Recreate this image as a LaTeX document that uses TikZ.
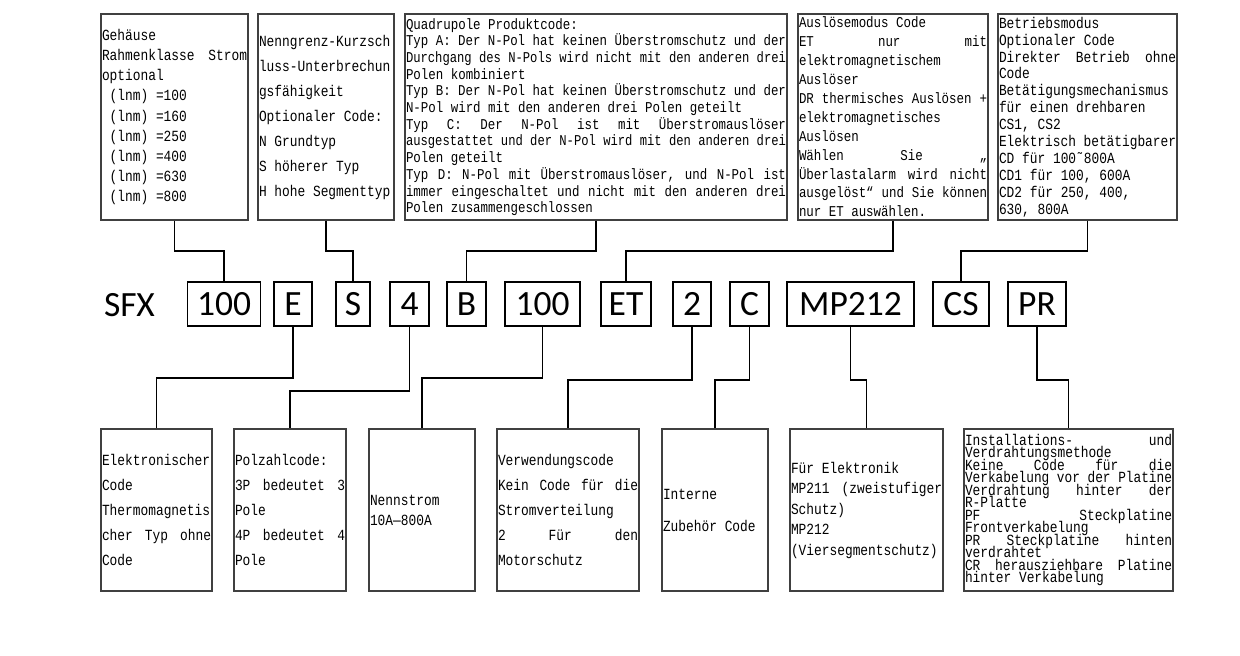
\documentclass[tikz,border=0pt]{standalone}
\usepackage{fontspec}
\usepackage{graphicx}
\newfontfamily\sm[FakeStretch=0.83]{Liberation Mono}
\newfontfamily\cb{Carlito}
\newcommand\bt[2]{\sm\fontsize{#1}{#2}\selectfont\lineskiplimit=-30pt\relax\hyphenpenalty=10000\relax\exhyphenpenalty=10000\relax}
\newcommand\sk{\spaceskip=\fontcharwd\font32 plus 40pt minus 1pt\relax\xspaceskip=\spaceskip}
\newcommand\jl[1]{\leavevmode\setbox0\hbox{\sk#1}\ifdim\wd0>\linewidth\resizebox{\linewidth}{\height}{\sk#1}\else\hbox to\linewidth{\sk#1}\fi}
\tikzset{
  tb/.style={draw=black!75, line width=1.2pt, inner xsep=1pt, inner ysep=0pt, align=left, anchor=center},
  cbox/.style={draw=black, line width=1.8pt, minimum height=44pt, inner sep=0pt, anchor=center, font={\cb\fontsize{35.5}{40}\selectfont}},
  conn/.style={draw=black, line width=1.8pt}
}
\begin{document}
\begin{tikzpicture}[x=1pt,y=-1pt]
\useasboundingbox[fill=white] (0,0) rectangle (1240,656);

% top boxes
\node[tb, font={\bt{15.5}{20.2}}, minimum width=147pt, minimum height=206pt, text width=145pt] (t1) at (174.5,117) {\sk Gehäuse\\\jl{Rahmenklasse  Strom}\\optional\\\hspace*{7.7pt}(lnm) =100\\\hspace*{7.7pt}(lnm) =160\\\hspace*{7.7pt}(lnm) =250\\\hspace*{7.7pt}(lnm) =400\\\hspace*{7.7pt}(lnm) =630\\\hspace*{7.7pt}(lnm) =800};
\node[tb, font={\bt{15.5}{25}}, minimum width=136pt, minimum height=206pt, text width=134pt] (t2) at (326,117) {\sk Nenngrenz-Kurzsch\\luss-Unterbrechun\\gsfähigkeit\\Optionaler Code:\\N Grundtyp\\S höherer Typ\\H hohe Segmenttyp};
\node[tb, font={\bt{15}{16.7}}, minimum width=382pt, minimum height=206pt, text width=380pt] (t3) at (596,117) {\sk Quadrupole Produktcode:\\\jl{Typ A: Der N-Pol hat keinen Überstromschutz und der}\\\jl{Durchgang des N-Pols wird nicht mit den anderen drei}\\Polen kombiniert\\\jl{Typ B: Der N-Pol hat keinen Überstromschutz und der}\\N-Pol wird mit den anderen drei Polen geteilt\\\jl{Typ C: Der N-Pol ist mit Überstromauslöser}\\\jl{ausgestattet und der N-Pol wird mit den anderen drei}\\Polen geteilt\\\jl{Typ D: N-Pol mit Überstromauslöser, und N-Pol ist}\\\jl{immer eingeschaltet und nicht mit den anderen drei}\\Polen zusammengeschlossen};
\node[tb, font={\bt{15}{18.9}}, minimum width=190pt, minimum height=206pt, text width=188pt] (t4) at (893,117) {\sk Auslösemodus Code\\\jl{ET nur mit}\\elektromagnetischem\\Auslöser\\\jl{DR thermisches Auslösen +}\\elektromagnetisches\\Auslösen\\\jl{Wählen Sie „}\\\jl{Überlastalarm wird nicht}\\\jl{ausgelöst“ und Sie können}\\nur ET auswählen.};
\node[tb, font={\bt{15.5}{16.9}}, minimum width=179pt, minimum height=206pt, text width=177pt] (t5) at (1087.5,117) {\sk Betriebsmodus\\Optionaler Code\\\jl{Direkter Betrieb ohne}\\Code\\Betätigungsmechanismus\\für einen drehbaren\\CS1, CS2\\\jl{Elektrisch betätigbarer}\\CD für 100˜800A\\CD1 für 100,  600A\\CD2 für 250,  400,\\630,  800A};

% code row
\node[anchor=center, inner sep=0pt, font={\cb\fontsize{35.5}{40}\selectfont}] (sfx) at (129.5,305) {SFX};
\node[cbox, minimum width=73pt] (c1) at (224,304) {100};
\node[cbox, minimum width=38pt] (c2) at (293,304) {E};
\node[cbox, minimum width=34pt] (c3) at (353,304) {S};
\node[cbox, minimum width=39pt] (c4) at (409.5,304) {4};
\node[cbox, minimum width=39pt] (c5) at (466.5,304) {B};
\node[cbox, minimum width=75pt] (c6) at (542.5,304) {100};
\node[cbox, minimum width=50pt] (c7) at (626,304) {ET};
\node[cbox, minimum width=38pt] (c8) at (692,304) {2};
\node[cbox, minimum width=39pt] (c9) at (749.5,304) {C};
\node[cbox, minimum width=127pt] (c10) at (850.5,304) {MP212};
\node[cbox, minimum width=56pt] (c11) at (961,304) {CS};
\node[cbox, minimum width=58pt] (c12) at (1037,304) {PR};

% bottom boxes
\node[tb, font={\bt{15.5}{25}}, minimum width=111pt, minimum height=162pt, text width=109pt] (b1) at (156.5,510) {\sk Elektronischer\\Code\\Thermomagnetis\\\jl{cher Typ ohne}\\Code};
\node[tb, font={\bt{15.5}{25}}, minimum width=112pt, minimum height=162pt, text width=110pt] (b2) at (290,510) {\sk Polzahlcode:\\\jl{3P bedeutet 3}\\Pole\\\jl{4P bedeutet 4}\\Pole};
\node[tb, font={\bt{15.5}{20}}, minimum width=106pt, minimum height=162pt, text width=104pt] (b3) at (422,510) {\sk Nennstrom\\10A—800A};
\node[tb, font={\bt{15.5}{25}}, minimum width=142pt, minimum height=162pt, text width=140pt] (b4) at (568,510) {\sk Verwendungscode\\\jl{Kein Code für die}\\Stromverteilung\\\jl{2 Für den}\\Motorschutz};
\node[tb, font={\bt{15.5}{32}}, minimum width=106pt, minimum height=162pt, text width=104pt] (b5) at (715,510) {\sk Interne\\Zubehör Code};
\node[tb, font={\bt{15.5}{20.5}}, minimum width=153pt, minimum height=162pt, text width=151pt] (b6) at (866.5,510) {\sk Für Elektronik\\\jl{MP211  (zweistufiger}\\Schutz)\\MP212\\(Viersegmentschutz)};
\node[tb, font={\bt{15.5}{12.45}}, minimum width=209pt, minimum height=162pt, text width=207pt] (b7) at (1068.5,510) {\sk\jl{Installations- und}\\Verdrahtungsmethode\\\jl{Keine Code für die}\\\jl{Verkabelung vor der Platine}\\\jl{Verdrahtung hinter der}\\R-Platte\\\jl{PF Steckplatine}\\Frontverkabelung\\\jl{PR Steckplatine hinten}\\verdrahtet\\\jl{CR herausziehbare Platine}\\hinter Verkabelung};

% connectors top
\draw[conn] (t1.south) -- ++(0,30) -| (c1.north);
\draw[conn] (t2.south) -- ++(0,30) -| (c3.north);
\draw[conn] (t3.south) -- ++(0,30) -| (c5.north);
\draw[conn] (t4.south) -- ++(0,30) -| (c7.north);
\draw[conn] (t5.south) -- ++(0,30) -| (c11.north);

% connectors bottom
\draw[conn] (c2.south) -- ++(0,51) -| (b1.north);
\draw[conn] (c4.south) -- ++(0,64) -| (b2.north);
\draw[conn] (c6.south) -- ++(0,51) -| (b3.north);
\draw[conn] (c8.south) -- ++(0,53) -| (b4.north);
\draw[conn] (c9.south) -- ++(0,53) -| (b5.north);
\draw[conn] (c10.south) -- ++(0,53) -| (b6.north);
\draw[conn] (c12.south) -- ++(0,53) -| (b7.north);
\end{tikzpicture}
\end{document}
